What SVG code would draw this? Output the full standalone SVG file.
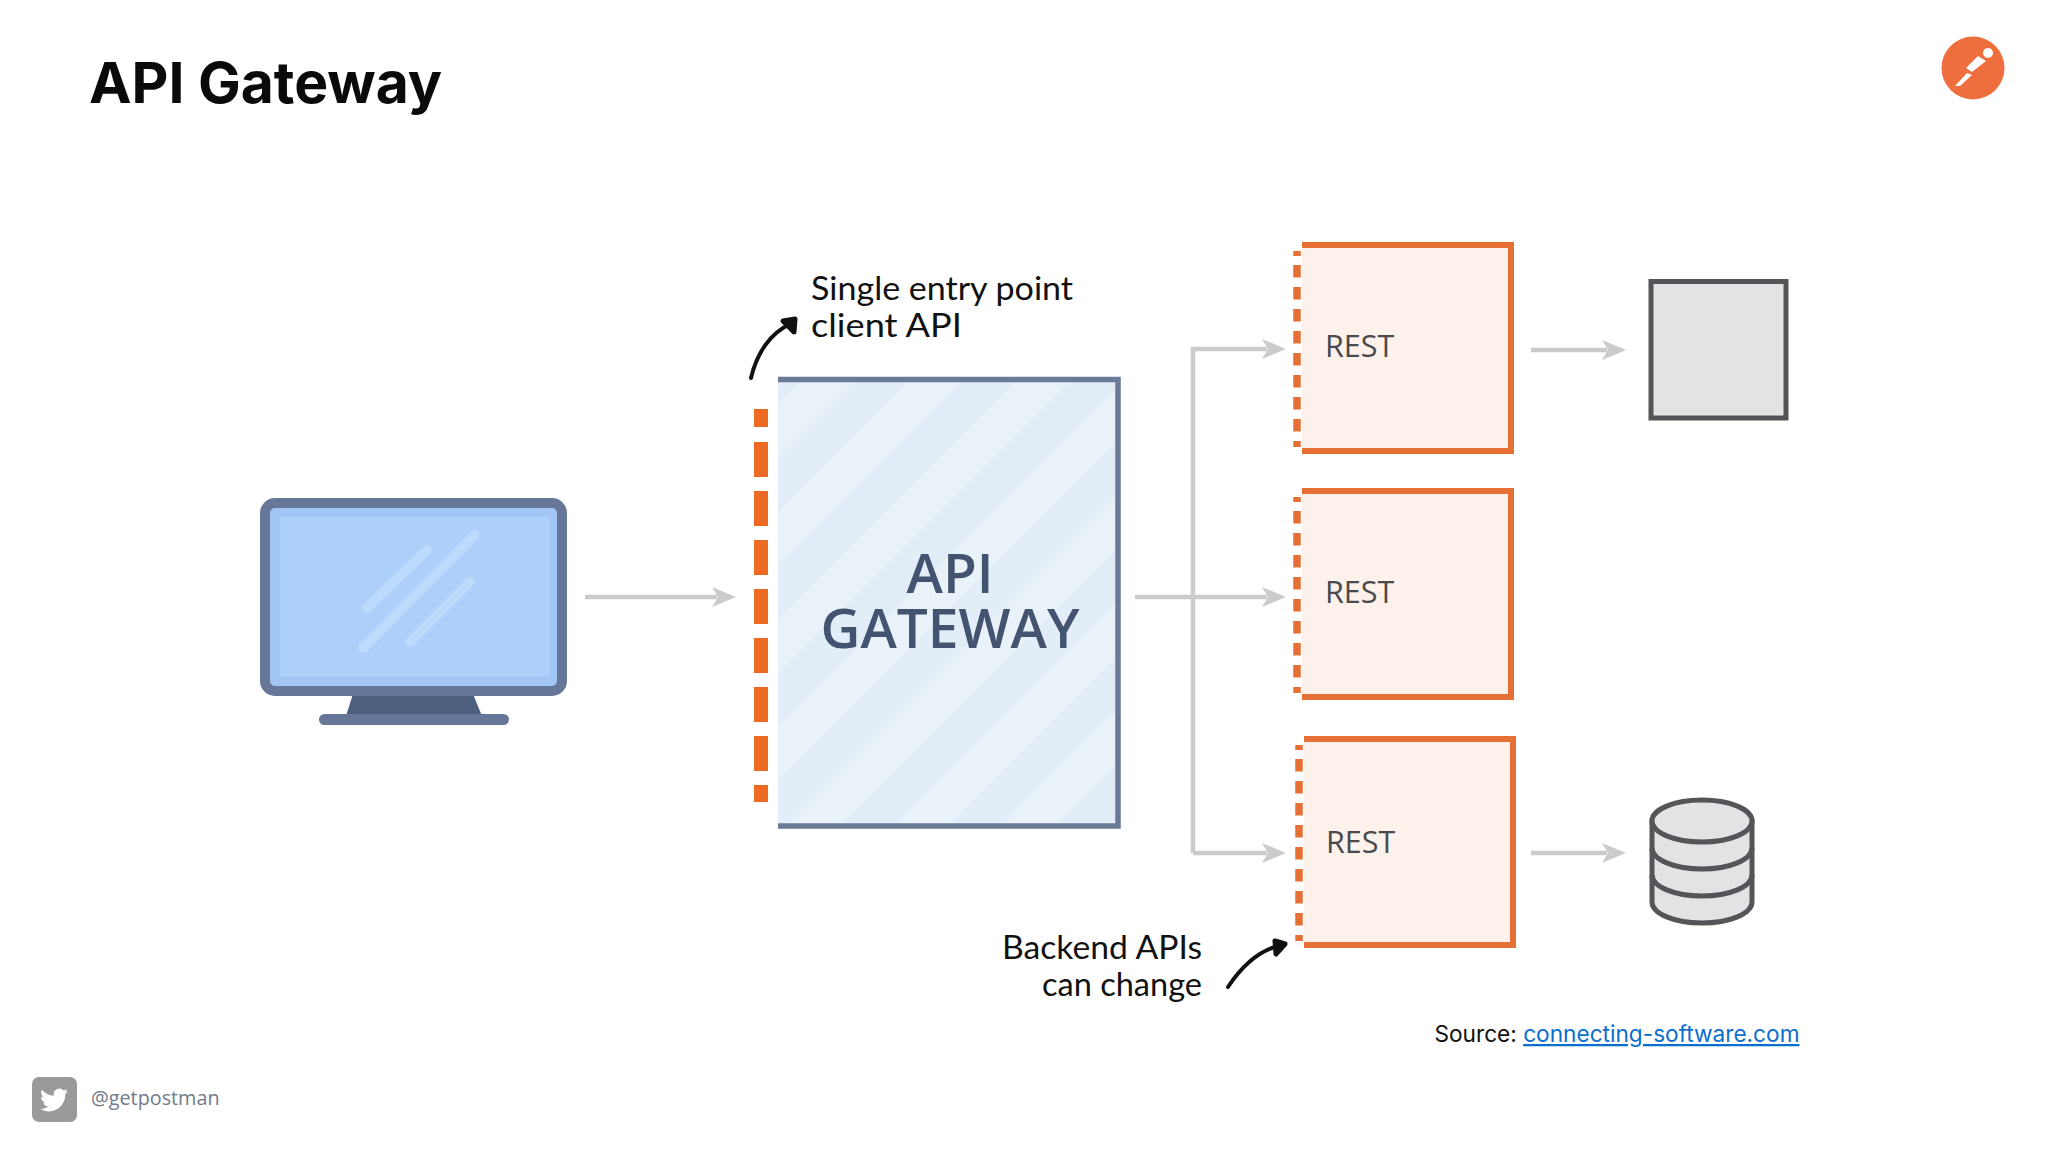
<svg xmlns="http://www.w3.org/2000/svg" width="2048" height="1152" viewBox="0 0 2048 1152">
<style>
.conn{fill:none;stroke:#cbcbcb;stroke-width:4.5}
.restbox{fill:#fdf1ec;stroke:none}
.restedge{fill:none;stroke:#e56f35;stroke-width:6}
.restdash{fill:none;stroke:#e56f35;stroke-width:7.5}
.resttext{font-family:"Open Sans",sans-serif;font-size:30.5px;font-weight:500;fill:#4a4a4c}
.hand{font-family:"Lato",sans-serif;font-size:33px;fill:#111}
.store{fill:#e3e3e6;stroke:#555559;stroke-width:5}
.curve{fill:none;stroke:#111;stroke-width:4;stroke-linecap:round}
</style>
<defs>
<marker id="ah" markerUnits="userSpaceOnUse" markerWidth="26" markerHeight="24" refX="5" refY="11" orient="auto"><path d="M0 1L24 11L0 21L6 11Z" fill="#cbcbcb"/></marker>
<pattern id="st" width="76" height="76" patternUnits="userSpaceOnUse" patternTransform="rotate(45)"><rect width="76" height="76" fill="#e2edf7"/><rect width="38" height="76" fill="#e9f1f9"/></pattern>
</defs>
<rect width="2048" height="1152" fill="#fff"/>
<text x="89" y="103" font-family="Inter,sans-serif" font-weight="700" font-size="57" fill="#0a0a0a">API Gateway</text>
<g id="postman-logo">
<circle cx="1973" cy="68" r="31.5" fill="#ef6e3e"/>
<circle cx="1988" cy="53" r="5" fill="#fff"/>
<path d="M1978 56L1986 61L1972 72L1966 68Z" fill="#fff"/>
<path d="M1967 73L1972 75L1960 86L1955 86Z" fill="#fff"/>
</g>
<g id="client">
<path d="M353 694H473L482 716H346Z" fill="#4d5f7e"/>
<rect x="319" y="714" width="190" height="11" rx="5.5" fill="#667698"/>
<rect x="265" y="503" width="297" height="188" rx="10" fill="#a1c5f4" stroke="#677799" stroke-width="10"/>
<rect x="280" y="517" width="270" height="160" fill="#acd0f9"/>
<path d="M367 608L427 550M363 648L475 535M410 642L470 582" stroke="#bcdafb" stroke-width="10" stroke-linecap="round" fill="none"/>
</g>
<g id="connectors">
<path class="conn" d="M585 597H717" marker-end="url(#ah)"/>
<path class="conn" d="M1135 597H1267" marker-end="url(#ah)"/>
<path class="conn" d="M1193 853V349H1267" marker-end="url(#ah)"/>
<path class="conn" d="M1193 853H1267" marker-end="url(#ah)"/>
<path class="conn" d="M1531 350H1607" marker-end="url(#ah)"/>
<path class="conn" d="M1531 853H1607" marker-end="url(#ah)"/>
</g>
<g id="gateway">
<rect x="778" y="379" width="340" height="447" fill="url(#st)"/>
<path d="M778 379.500H1118V826H778" fill="none" stroke="#6b7a96" stroke-width="5.5"/>
<path d="M761 409V427M761 442V802" fill="none" stroke="#ec6a24" stroke-width="14" stroke-dasharray="35 14"/>
<text text-anchor="middle" font-family="Open Sans,sans-serif" font-weight="600" font-size="55" fill="#44536f"><tspan x="950" y="593">API</tspan><tspan x="950" y="648">GATEWAY</tspan></text>
</g>
<g id="rest-1">
<rect class="restbox" x="1302" y="245" width="209" height="206"/>
<path class="restedge" d="M1302 245H1511V451H1302"/>
<path class="restdash" d="M1297 251V256M1297 265V447" stroke-dasharray="12.5 9.5"/>
<text class="resttext" x="1325" y="357">REST</text>
</g>
<g id="rest-2">
<rect class="restbox" x="1302" y="491" width="209" height="206"/>
<path class="restedge" d="M1302 491H1511V697H1302"/>
<path class="restdash" d="M1297 497V502M1297 511V693" stroke-dasharray="12.5 9.5"/>
<text class="resttext" x="1325" y="603">REST</text>
</g>
<g id="rest-3">
<rect class="restbox" x="1304" y="739" width="209" height="206"/>
<path class="restedge" d="M1304 739H1513V945H1304"/>
<path class="restdash" d="M1299 745V750M1299 759V941" stroke-dasharray="12.5 9.5"/>
<text class="resttext" x="1326" y="853">REST</text>
</g>
<g id="service"><rect class="store" x="1651" y="281.500" width="135" height="136.500"/></g>
<g id="database">
<path class="store" d="M1652 821V902A50 21 0 0 0 1752 902V821Z"/>
<ellipse class="store" cx="1702" cy="821" rx="50" ry="21"/>
<path class="store" style="fill:none" d="M1652 848A50 21 0 0 0 1752 848M1652 875A50 21 0 0 0 1752 875"/>
</g>
<g id="note-entry">
<path class="curve" d="M751 378C757 352 771 333 790 324"/>
<path d="M783 321L795 319L794 332Z" fill="#111" stroke="#111" stroke-width="5" stroke-linejoin="round"/>
<text class="hand" x="811" y="300" textLength="262" lengthAdjust="spacingAndGlyphs">Single entry point</text>
<text class="hand" x="811" y="337" textLength="151" lengthAdjust="spacingAndGlyphs">client API</text>
</g>
<g id="note-backend">
<path class="curve" d="M1228 987C1240 969 1256 952 1278 946"/>
<path d="M1275 941L1285 944L1276 954Z" fill="#111" stroke="#111" stroke-width="5" stroke-linejoin="round"/>
<text class="hand" x="1002" y="959" textLength="200" lengthAdjust="spacingAndGlyphs">Backend APIs</text>
<text class="hand" x="1042" y="996" textLength="160" lengthAdjust="spacingAndGlyphs">can change</text>
</g>
<text x="1434.500" y="1042" font-family="Inter,sans-serif" font-size="22.650" fill="#111">Source: <tspan fill="#0b6fce" text-decoration="underline">connecting-software.com</tspan></text>
<g id="twitter">
<rect x="32" y="1077" width="45" height="45" rx="7" fill="#9a9a9a"/>
<path transform="translate(40 1086) scale(1.17)" fill="#fff" d="M23.953 4.57a10 10 0 01-2.825.775 4.958 4.958 0 002.163-2.723c-.951.555-2.005.959-3.127 1.184a4.92 4.92 0 00-8.384 4.482C7.69 8.095 4.067 6.13 1.64 3.162a4.822 4.822 0 00-.666 2.475c0 1.71.87 3.213 2.188 4.096a4.904 4.904 0 01-2.228-.616v.06a4.923 4.923 0 003.946 4.827 4.996 4.996 0 01-2.212.085 4.936 4.936 0 004.604 3.417 9.867 9.867 0 01-6.102 2.105c-.39 0-.779-.023-1.17-.067a13.995 13.995 0 007.557 2.209c9.053 0 13.998-7.496 13.998-13.985 0-.21 0-.42-.015-.63A9.935 9.935 0 0024 4.59z"/>
<text x="91" y="1105" font-family="Open Sans,sans-serif" font-size="19.800" fill="#6f7a8a">@getpostman</text>
</g>
</svg>
